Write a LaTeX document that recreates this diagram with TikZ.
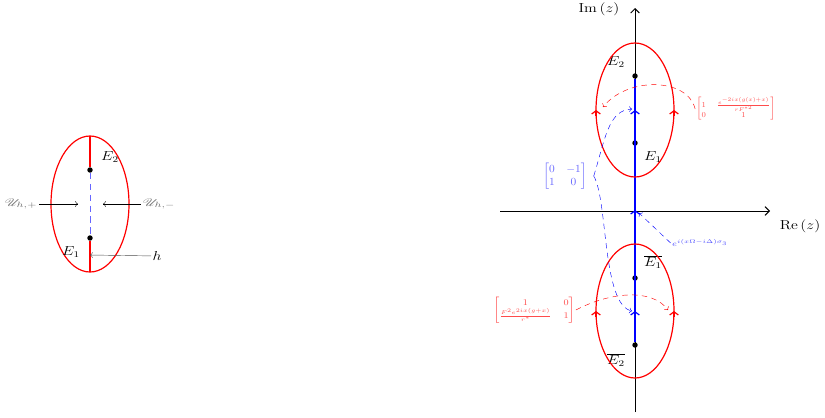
\documentclass[tikz,border=0pt]{standalone}
\usepackage{amsmath}
\usepackage{amssymb}
\usepackage{mathrsfs}
\usetikzlibrary{arrows.meta}

\tikzset{
  contour/.style={red, line width=1.1pt},
  cut/.style={blue, line width=1.1pt},
  axis/.style={black, line width=0.9pt, -{Straight Barb[length=4pt,width=8pt]}},
  jump/.style={dash pattern=on 5pt off 4pt, thin},
  flow/.style={-{Straight Barb[length=3pt,width=8pt]}},
  pt/.style={circle, fill=black, inner sep=0pt, minimum size=5pt},
  lbl/.style={xscale=1.2, inner sep=1pt, font=\large},
  mat/.style={inner sep=1pt},
}

\begin{document}
\begin{tikzpicture}[x=0.92pt, y=-0.92pt]
        \useasboundingbox (0,0) rectangle (825,417);

        % Left: single band
        \draw[contour] (90,204) ellipse [x radius=39, y radius=68];
        \node[pt] (le2) at (90,170) {};
        \node[pt] (le1) at (90,238) {};
        \coordinate (ltop) at (90,136);
        \coordinate (lbot) at (90,272);
        \draw[contour] (ltop) -- (le2);
        \draw[contour] (le1) -- (lbot);
        \draw[blue!60, thick, dash pattern=on 6pt off 4pt] (le2) -- (le1);
        \node[lbl] (le2l) at (110,157) {$E_2$};
        \node[lbl] (le1l) at (71,252) {$E_1$};

        \node[lbl, font=\normalsize, xscale=1.15, text=black!55] (uplus) at (21,204) {$\mathscr{U}_{h,+}$};
        \node[lbl, font=\normalsize, xscale=1.15, text=black!55] (uminus) at (159,204) {$\mathscr{U}_{h,-}$};
        \node[lbl] (hl) at (157,256) {$h$};
        \coordinate (uplusend) at (78,204);
        \coordinate (uminusend) at (103,204);
        \coordinate (hend) at (90,255);
        \draw[->] (uplus) -- (uplusend);
        \draw[->] (uminus) -- (uminusend);
        \draw[black!70, ->] (hl) -- (hend);

        % Right: axes
        \coordinate (xa) at (500,211);
        \coordinate (xb) at (770,211);
        \coordinate (ya) at (635,412);
        \coordinate (yb) at (635,8);
        \draw[axis] (xa) -- (xb);
        \draw[axis] (ya) -- (yb);
        \node[lbl] (rel) at (800,226) {$\mathrm{Re}\,(z)$};
        \node[lbl] (iml) at (599,9) {$\mathrm{Im}\,(z)$};

        % Branch points and cut
        \node[pt] (e2) at (635,76) {};
        \node[pt] (e1) at (635,143) {};
        \node[pt] (e1b) at (635,278) {};
        \node[pt] (e2b) at (635,345) {};
        \draw[cut] (e2) -- (e2b);
        \node[lbl] (e2l) at (616,62) {$E_2$};
        \node[lbl] (e1l) at (653,157) {$E_1$};
        \node[lbl] (e1bl) at (653,262) {$\overline{E_1}$};
        \node[lbl] (e2bl) at (616,360) {$\overline{E_2}$};

        % Contours round the bands
        \draw[contour] (635,110) ellipse [x radius=39, y radius=67];
        \draw[contour] (635,311) ellipse [x radius=39, y radius=67];
        \foreach \cx/\cy in {596/110, 674/110, 596/311, 674/311}
            \draw[contour, flow] (\cx,\cy+6) -- (\cx,\cy);
        \foreach \cy in {110, 210, 311}
            \draw[cut, flow] (635,\cy+6) -- (635,\cy);

        % Jump matrices
        \node[mat, xscale=1.05, outer xsep=5pt, text=blue!60] (jb) at (565,176) {$\begin{bmatrix}0 & -1\\ 1 & 0\end{bmatrix}$};
        \node[mat, text=red!70, font=\scriptsize] (ju) at (736,109) {$\begin{bmatrix}1 & \frac{\scriptscriptstyle e^{-2ix(g(x)+x)}}{\scriptscriptstyle rF^{*2}}\\ 0 & 1\end{bmatrix}$};
        \node[mat, xscale=1.1, text=red!70, font=\footnotesize] (jl) at (534,310) {$\begin{bmatrix}1 & 0\\ \frac{\scriptscriptstyle F^{2}e^{2ix(g+x)}}{\scriptscriptstyle r^{*}} & 1\end{bmatrix}$};
        \node[mat, xscale=1.2, text=blue!70, font=\scriptsize] (jo) at (700,243) {$e^{i(x\Omega-i\Delta)\sigma_3}$};

        \coordinate (bu) at (632,109);
        \coordinate (bd) at (632,311);
        \coordinate (bo) at (639,213);
        \coordinate (ru) at (603,107);
        \coordinate (rd) at (668,310);
        \draw[jump, blue, ->] (jb.east) .. controls (605,140) and (608,110) .. (bu);
        \draw[jump, blue, ->] (jb.east) .. controls (608,200) and (602,305) .. (bd);
        \draw[jump, blue, ->] (jo.west) -- (bo);
        \draw[jump, red, ->] (ju.west) .. controls (688,78) and (628,76) .. (ru);
        \draw[jump, red, ->] (jl.east) .. controls (610,292) and (652,288) .. (rd);
    \end{tikzpicture}
\end{document}
